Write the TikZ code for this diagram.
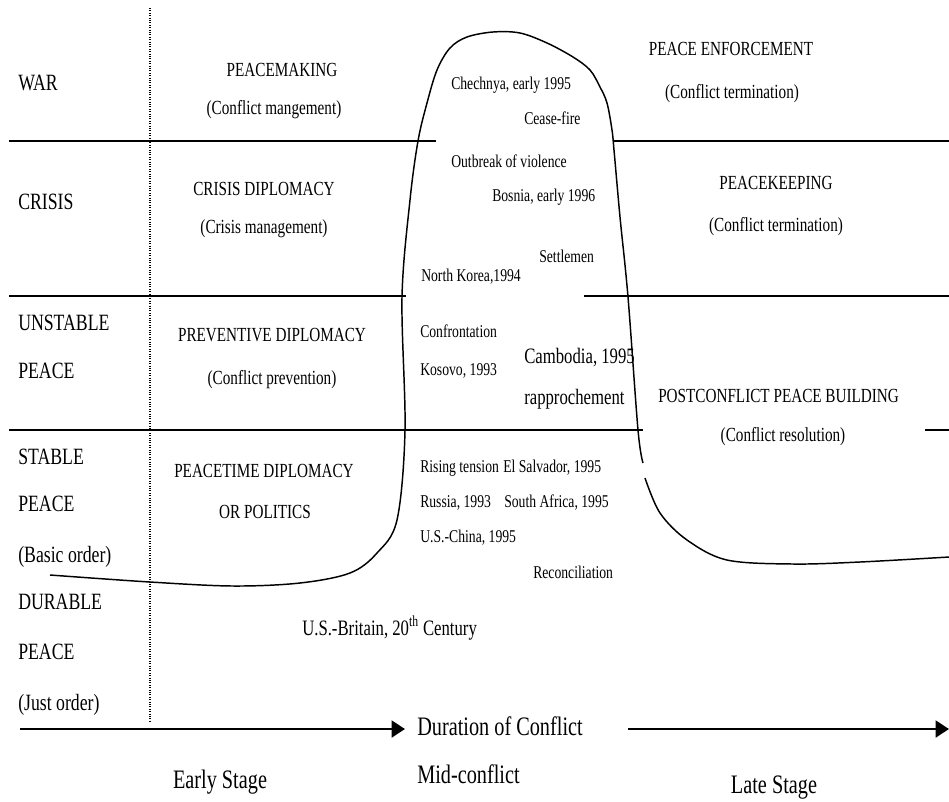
\documentclass[tikz,border=0pt]{standalone}
\usepackage{fontspec}
\setmainfont{Liberation Serif}[FakeStretch=0.76]
\usetikzlibrary{arrows.meta}

\newcommand\rowfont{\fontsize{17.5}{20}\selectfont}
\newcommand\zonefont{\fontsize{15}{18}\selectfont}
\newcommand\casefont{\fontsize{13.5}{16}\selectfont}
\newcommand\bigcasefont{\fontsize{16.5}{19}\selectfont}
\newcommand\axisfont{\fontsize{20}{23}\selectfont}

\begin{document}
\begin{tikzpicture}[x=0.75pt, y=-0.75pt,
    row/.style={font=\rowfont, anchor=west, inner sep=0pt, text height=11.6pt, text depth=0pt},
    zone/.style={font=\zonefont, inner sep=0pt, text height=9.9pt, text depth=0pt},
    case/.style={font=\casefont, anchor=west, inner sep=0pt, text height=8.9pt, text depth=0pt},
    bigcase/.style={case, font=\bigcasefont, text height=10.9pt},
    axis/.style={font=\axisfont, inner sep=0pt, text height=13.2pt, text depth=0pt},
    sep/.style={line width=2pt},
    timeline/.style={line width=2pt, -{Triangle[length=10pt,width=12.5pt]}},
    hump/.style={line width=1.1pt, line join=round}]
                 \useasboundingbox (0,0) rectangle (949,801);
                 % separators between the levels
                 \coordinate (W0) at (9,141);   \coordinate (W1) at (436,141);
                 \coordinate (W2) at (614,141); \coordinate (W3) at (949,141);
                 \coordinate (C0) at (9,296);   \coordinate (C1) at (406,296);
                 \coordinate (C2) at (584,296); \coordinate (C3) at (949,296);
                 \coordinate (U0) at (9,430);   \coordinate (U1) at (643,430);
                 \coordinate (U2) at (925,430); \coordinate (U3) at (949,430);
                 \draw[sep] (W0) -- (W1);
                 \draw[sep] (W2) -- (W3);
                 \draw[sep] (C0) -- (C1);
                 \draw[sep] (C2) -- (C3);
                 \draw[sep] (U0) -- (U1);
                 \draw[sep] (U2) -- (U3);
                 \coordinate (D0) at (150,8);
                 \coordinate (D1) at (150,722);
                 \draw[densely dotted, line width=0.8pt] (D0) -- (D1);
                 % the curve
                 \draw[hump] plot[smooth, tension=0.55] coordinates {(50,575) (150,582) (233,586) (300,583)
                     (350,573) (377,553) (397,520) (405,430) (402,297) (410,200) (418,141) (427,103)
                     (437,70) (450,48) (467,37) (493,32) (520,33) (547,43) (573,57) (590,70)
                     (600,87) (607,103) (612,130) (614,150) (620,217)
                     (628,297) (638,430) (643,463)};
                 \draw[hump] plot[smooth, tension=0.55] coordinates {(645,478) (660,513) (687,540)
                     (727,560) (793,564) (860,562) (949,557)};
                 % levels
                 \node[row] (war) at (18,83) {WAR};
                 \node[row] (crisis) at (18,202) {CRISIS};
                 \node[row] (unst1) at (18,323) {UNSTABLE};
                 \node[row] (unst2) at (18,371) {PEACE};
                 \node[row] (stab1) at (18,457) {STABLE};
                 \node[row] (stab2) at (18,504) {PEACE};
                 \node[row] (stab3) at (18,555) {(Basic order)};
                 \node[row] (dur1) at (18,602) {DURABLE};
                 \node[row] (dur2) at (18,652) {PEACE};
                 \node[row] (dur3) at (18,703) {(Just order)};
                 % early stage
                 \node[zone] (making) at (282,70) {PEACEMAKING};
                 \node[zone] (making2) at (274,108) {(Conflict mangement)};
                 \node[zone] (crisdip) at (264,189) {CRISIS DIPLOMACY};
                 \node[zone] (crisdip2) at (264,227) {(Crisis management)};
                 \node[zone] (prev) at (272,335) {PREVENTIVE DIPLOMACY};
                 \node[zone] (prev2) at (272,378) {(Conflict prevention)};
                 \node[zone] (ptime) at (264,471) {PEACETIME DIPLOMACY};
                 \node[zone] (ptime2) at (265,512) {OR POLITICS};
                 \node[zone, font=\bigcasefont, text height=10.9pt, anchor=west] (usgb) at (302,628)
                     {U.S.-Britain, 20\textsuperscript{th} Century};
                 % late stage
                 \node[zone] (enf) at (731,49) {PEACE ENFORCEMENT};
                 \node[zone] (enf2) at (732,92) {(Conflict termination)};
                 \node[zone] (keep) at (776,183) {PEACEKEEPING};
                 \node[zone] (keep2) at (776,225) {(Conflict termination)};
                 \node[zone, anchor=west] (build) at (658,396) {POSTCONFLICT PEACE BUILDING};
                 \node[zone] (build2) at (783,435) {(Conflict resolution)};
                 % cases
                 \node[case] (chech) at (451,84) {Chechnya, early 1995};
                 \node[case] (cease) at (524,119) {Cease-fire};
                 \node[case] (outbr) at (451,162) {Outbreak of violence};
                 \node[case] (bosn) at (492,196) {Bosnia, early 1996};
                 \node[case] (settl) at (539,257) {Settlemen};
                 \node[case] (nkor) at (421,276) {North Korea,1994};
                 \node[case] (confr) at (420,332) {Confrontation};
                 \node[case] (kos) at (420,370) {Kosovo, 1993};
                 \node[bigcase] (camb) at (524,356) {Cambodia, 1995};
                 \node[bigcase] (rappr) at (524,397) {rapprochement};
                 \node[case] (rise) at (420,467) {Rising tension};
                 \node[case] (salv) at (503,467) {El Salvador, 1995};
                 \node[case] (russ) at (420,502) {Russia, 1993};
                 \node[case] (safr) at (504,502) {South Africa, 1995};
                 \node[case] (uscn) at (420,537) {U.S.-China, 1995};
                 \node[case] (recon) at (533,573) {Reconciliation};
                 % time axis
                 \node[axis, anchor=west] (dur) at (417,727) {Duration of Conflict};
                 \node[axis, anchor=west] (mid) at (417,775) {Mid-conflict};
                 \node[axis] (early) at (220,780) {Early Stage};
                 \node[axis] (late) at (774,785) {Late Stage};
                 \coordinate (T0) at (20,729);  \coordinate (T1) at (405,729);
                 \coordinate (T2) at (628,729); \coordinate (T3) at (949,729);
                 \draw[timeline] (T0) -- (T1);
                 \draw[timeline] (T2) -- (T3);
            \end{tikzpicture}
\end{document}
